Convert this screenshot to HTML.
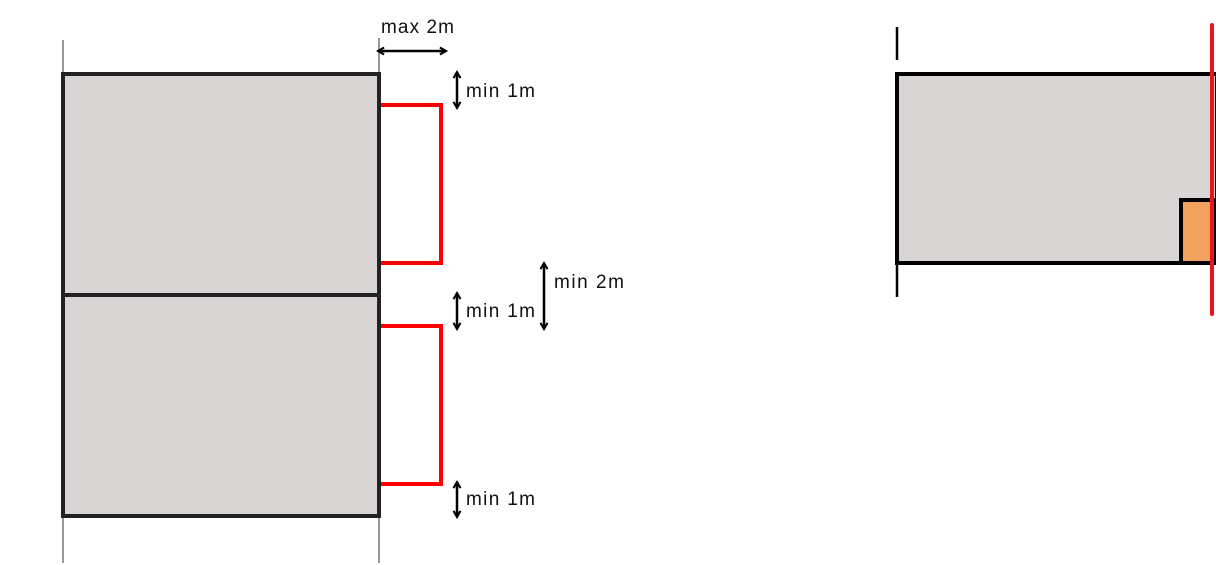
<!DOCTYPE html>
<html><head><style>body{margin:0;background:#fff}svg{display:block}text{font-family:"Liberation Sans",sans-serif;font-size:19px;fill:#111}</style></head><body>
<svg width="1216" height="565" viewBox="0 0 1216 565">
<defs><marker id="a" viewBox="0 0 10 10" refX="8" refY="5" markerWidth="3.5" markerHeight="3.5" orient="auto-start-reverse"><path d="M1,1 L8,5 L1,9" fill="none" stroke="#000" stroke-width="2.4"/></marker></defs>
<g stroke="#999" stroke-width="2"><line x1="63" y1="40" x2="63" y2="74"/><line x1="379" y1="38" x2="379" y2="74"/><line x1="63" y1="516" x2="63" y2="563"/><line x1="379" y1="516" x2="379" y2="563"/></g>
<rect x="63" y="74" width="316" height="442" fill="#d8d5d4" stroke="#222" stroke-width="4"/>
<line x1="63" y1="295" x2="379" y2="295" stroke="#222" stroke-width="4"/>
<g fill="none" stroke="#f00" stroke-width="4"><path d="M381,105 H441 V263 H381"/><path d="M381,326 H441 V484 H381"/></g>
<g stroke="#000" stroke-width="2.5" marker-start="url(#a)" marker-end="url(#a)"><line x1="378" y1="51" x2="446" y2="51"/><line x1="457" y1="72" x2="457" y2="108"/><line x1="457" y1="293" x2="457" y2="329"/><line x1="457" y1="482" x2="457" y2="517"/><line x1="544" y1="263" x2="544" y2="329"/></g>
<text x="381" y="33" textLength="73">max 2m</text><text x="466" y="97" textLength="69">min 1m</text><text x="554" y="288" textLength="70">min 2m</text><text x="466" y="317" textLength="69">min 1m</text><text x="466" y="505" textLength="69">min 1m</text>
<g stroke="#000" stroke-width="2.5"><line x1="897" y1="27" x2="897" y2="60"/><line x1="897" y1="263" x2="897" y2="297"/></g>
<rect x="897" y="74" width="320" height="189" fill="#d8d5d4" stroke="#000" stroke-width="4"/>
<rect x="1181" y="200" width="34" height="63" fill="#f2a25e" stroke="#000" stroke-width="4"/>
<line x1="1212" y1="25" x2="1212" y2="314" stroke="#e8161a" stroke-width="4" stroke-linecap="round"/>
</svg></body></html>
